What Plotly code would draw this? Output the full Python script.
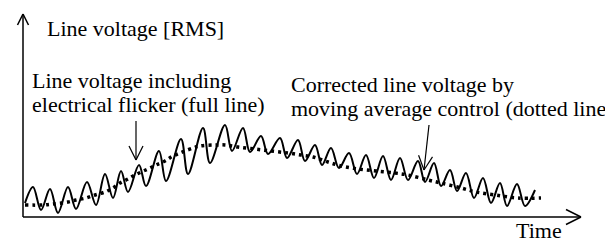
import math
import plotly.graph_objects as go

# ---- data (time in arbitrary units from the origin, line voltage in arbitrary units) ----
# full line: line voltage including electrical flicker (peaks / troughs)
wave_time = [2, 10, 18, 27, 35, 45, 53, 64, 73, 82, 90, 98, 105, 116, 123, 136, 143,
             158, 165, 180, 187, 202, 209, 220, 227, 238, 245, 257, 264, 275, 282,
             292, 299, 308, 316, 326, 334, 343, 351, 360, 368, 377, 385, 395, 402,
             411, 418, 427, 434, 443, 451, 460, 468, 477, 484, 494, 502, 512]
wave_volt = [14, 30, 7, 28, 4, 30, 8, 35, 12, 43, 19, 46, 25, 52, 31, 66, 36,
             78, 43, 89, 54, 92, 66, 89, 65, 81, 63, 79, 59, 77, 56,
             72, 52, 69, 49, 64, 43, 62, 39, 61, 37, 59, 37, 56, 35,
             54, 31, 47, 26, 44, 19, 39, 14, 34, 11, 33, 11, 27]

# dotted line: corrected line voltage by moving average control
avg_time = [2, 20, 30, 45, 53, 63, 72, 82, 90, 97, 105, 112, 127, 133, 142, 150,
            170, 177, 192, 202, 215, 232, 248, 265, 278, 290, 305, 318, 335, 353,
            372, 385, 405, 418, 438, 453, 472, 495, 518]
avg_volt = [12, 12, 13, 15, 17, 19, 22, 25, 29, 34, 38, 42, 49, 52, 56, 61,
            69, 71, 72, 72, 70, 68, 66, 64, 62, 60, 55, 51, 48, 46,
            44, 42, 37, 34, 29, 25, 22, 19, 19]

y_title = "Line voltage [RMS]"
x_title = "Time"
label_full = ["Line voltage including", "electrical flicker (full line)"]
label_avg = ["Corrected line voltage by", "moving average control (dotted line)"]

W, H = 613, 242
FONT = "Liberation Serif"
FS = 22


def px(x):
    return x / W


def py(y):
    return 1 - y / H


fig = go.Figure()
fig.add_trace(go.Scatter(x=wave_time, y=wave_volt, mode="lines",
                         line=dict(color="black", width=2, shape="spline", smoothing=1),
                         hoverinfo="skip"))
fig.add_trace(go.Scatter(x=avg_time, y=avg_volt, mode="lines",
                         line=dict(color="black", width=3.5, dash="3px,4px", shape="spline"),
                         hoverinfo="skip"))

shapes = []


def seg(x0, y0, x1, y1, w=1.5):
    shapes.append(dict(type="line", xref="paper", yref="paper",
                       x0=px(x0), y0=py(y0), x1=px(x1), y1=py(y1),
                       line=dict(color="black", width=w)))


def arrow(x0, y0, x1, y1, hl=14, hw=7, w=1.2):
    dx, dy = x1 - x0, y1 - y0
    L = math.hypot(dx, dy)
    ux, uy = dx / L, dy / L
    nx, ny = -uy, ux
    seg(x0, y0, x1, y1, w)
    bx, by = x1 - ux * hl, y1 - uy * hl
    seg(x1, y1, bx + nx * hw, by + ny * hw, w)
    seg(x1, y1, bx - nx * hw, by - ny * hw, w)


# axes with open arrowheads
arrow(15, 209, 15, 6, hl=11, hw=5.5, w=1.5)
arrow(15, 209, 573, 209, hl=15, hw=7.5, w=1.5)
# pointer arrows
arrow(128, 113, 128, 152, hl=14, hw=7, w=1.2)
arrow(421, 117, 416, 162, hl=14, hw=7, w=1.2)

ann = []


def text(t, x, base):
    ann.append(dict(text=t, x=px(x), y=py(base - 7.4), xref="paper", yref="paper",
                    xanchor="left", yanchor="middle", showarrow=False, borderpad=0,
                    font=dict(family=FONT, size=FS, color="black")))


text(y_title, 38, 28)
text(label_full[0], 23, 80)
text(label_full[1], 23, 104)
text(label_avg[0], 282, 84)
text(label_avg[1], 282, 108)
text(x_title, 507, 230)

fig.update_layout(
    width=W, height=H, margin=dict(l=0, r=0, t=0, b=0),
    paper_bgcolor="white", plot_bgcolor="white", showlegend=False,
    font=dict(family=FONT),
    xaxis=dict(range=[-15, W - 15], visible=False, fixedrange=True),
    yaxis=dict(range=[209 - H, 209], visible=False, fixedrange=True),
    shapes=shapes, annotations=ann,
)

fig.write_html("out.html")
